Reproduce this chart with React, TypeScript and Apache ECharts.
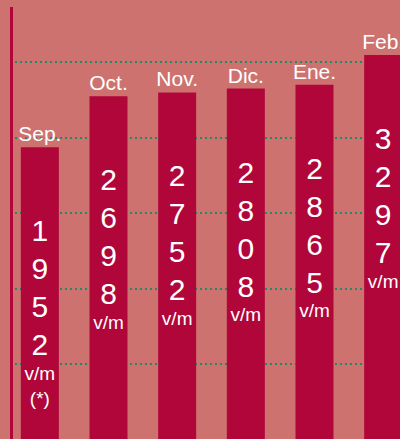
import React, { useEffect, useRef } from 'react';
import * as echarts from 'echarts';

const months = ['Sep.', 'Oct.', 'Nov.', 'Dic.', 'Ene.', 'Feb.'];
const values = [1952, 2698, 2752, 2808, 2865, 3297];
const unitLabel = 'v/m';
const notes = ['(*)', '', '', '', '', ''];

export default function App() {
  const ref = useRef<HTMLDivElement>(null);
  useEffect(() => {
    const chart = echarts.init(ref.current!, null, { renderer: 'svg' });
    const FONT = '"Liberation Sans", Arial, Helvetica, sans-serif';
    const BAR = '#B0063A';
    const TXT = '#FFFFFF';
    chart.setOption({
      animation: false,
      backgroundColor: '#CE7270',
      grid: [
        { left: 5.5, top: 0, width: 412, height: 439, outerBoundsMode: 'none', containLabel: false },
        { left: 15, right: 0, top: 62, height: 302, outerBoundsMode: 'none', containLabel: false },
      ],
      xAxis: [
        { type: 'category', gridIndex: 0, data: months, show: false, boundaryGap: true },
        { type: 'value', gridIndex: 1, show: false, min: 0, max: 1 },
      ],
      yAxis: [
        { type: 'value', gridIndex: 0, min: -2300, max: 4100, show: false },
        {
          type: 'value', gridIndex: 1, min: 0, max: 4, interval: 1,
          axisLine: { show: false }, axisTick: { show: false }, axisLabel: { show: false },
          splitLine: { show: true, lineStyle: { color: '#1E8A68', width: 2, type: [2, 3] } },
        },
      ],
      graphic: [
        { type: 'line', shape: { x1: 11.5, y1: 7, x2: 11.5, y2: 439 }, style: { stroke: BAR, lineWidth: 3 }, z: 10 },
      ],
      series: [
        {
          type: 'custom',
          xAxisIndex: 0,
          yAxisIndex: 0,
          clip: false,
          data: values.map((v, i) => [i, v]),
          renderItem: (params: any, api: any) => {
            const idx = api.value(0) as number;
            const v = api.value(1) as number;
            const p = api.coord([idx, v]);
            const cs = params.coordSys;
            const bottom = cs.y + cs.height;
            const w = 38;
            const cx = p[0];
            const top = p[1];
            const children: any[] = [
              { type: 'rect', shape: { x: cx - w / 2, y: top, width: w, height: bottom - top }, style: { fill: BAR } },
              { type: 'text', x: cx, y: top - 3, style: { text: months[idx], fill: TXT, fontSize: 21, fontFamily: FONT, align: 'center', verticalAlign: 'bottom' } },
              { type: 'text', x: cx, y: top + 64.5, style: { text: String(v).split('').join('\n'), fill: TXT, fontSize: 30, lineHeight: 38, fontFamily: FONT, align: 'center', verticalAlign: 'top' } },
              { type: 'text', x: cx, y: top + 226, style: { text: unitLabel, fill: TXT, fontSize: 19, fontFamily: FONT, align: 'center', verticalAlign: 'middle' } },
            ];
            if (notes[idx]) {
              children.push({ type: 'text', x: cx, y: top + 251, style: { text: notes[idx], fill: TXT, fontSize: 19, fontFamily: FONT, align: 'center', verticalAlign: 'middle' } });
            }
            return { type: 'group', children };
          },
        },
      ],
    });
    return () => chart.dispose();
  }, []);
  return <div ref={ref} style={{ position: 'fixed', left: 0, top: 0, width: 400, height: 439 }} />;
}
